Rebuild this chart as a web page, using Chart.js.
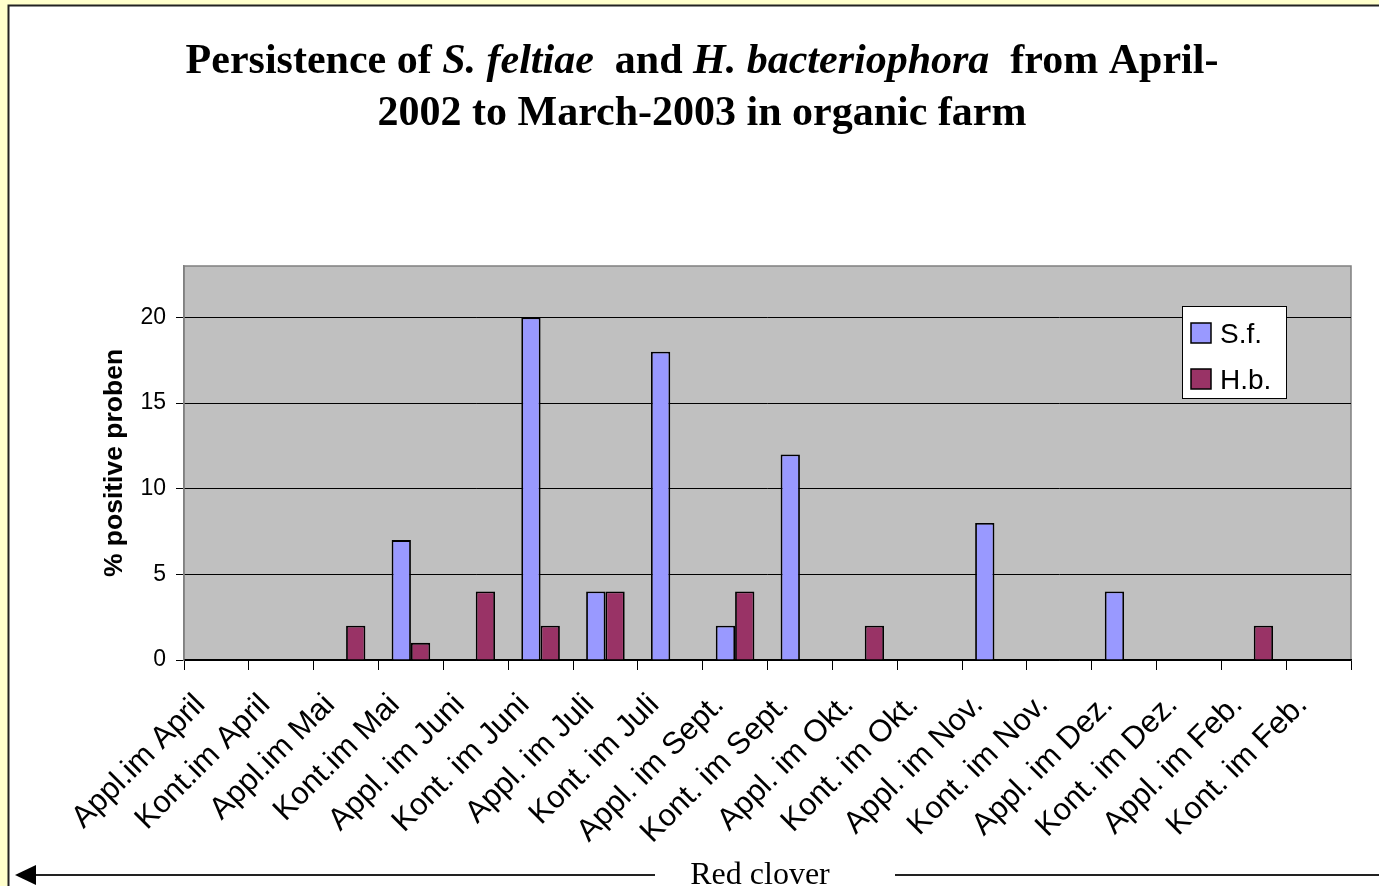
<!DOCTYPE html>
<html><head><meta charset="utf-8">
<script src="https://cdn.jsdelivr.net/npm/chart.js@4.4.1/dist/chart.umd.min.js"></script>
<style>html,body{margin:0;padding:0;background:#FFFFCC;overflow:hidden}
#wrap{position:absolute;left:0;top:0;width:1379px;height:886px}
</style></head><body><div id="wrap"><canvas id="c" width="1379" height="886"></canvas></div>
<script>
const categories = ['Appl.im April','Kont.im April','Appl.im Mai','Kont.im Mai','Appl. im Juni','Kont. im Juni','Appl. im Juli','Kont. im Juli','Appl. im Sept.','Kont. im Sept.','Appl. im Okt.','Kont. im Okt.','Appl. im Nov.','Kont. im Nov.','Appl. im Dez.','Kont. im Dez.','Appl. im Feb.','Kont. im Feb.'];
const sfValues = [0,0,0,7,0,20,4,18,2,12,0,0,8,0,4,0,0,0];
const hbValues = [0,0,2,1,4,2,4,0,4,0,2,0,0,0,0,0,2,0];
const yTicks = [0,5,10,15,20];
const seriesNames = ['S.f.','H.b.'];
const yTitle = '% positive proben';
const titleLine1 = [['Persistence of ',false],['S. feltiae',true],['  and ',false],['H. bacteriophora',true],['  from April-',false]];
const titleLine2 = [['2002 to March-2003 in organic farm',false]];
const bottomLabel = 'Red clover';

const SANS = "'Liberation Sans', Arial, sans-serif";
const SERIF = "'Liberation Serif', 'Times New Roman', serif";

const bgPlugin = {
  id:'bg',
  beforeDraw(chart){
    const ctx = chart.ctx, a = chart.chartArea;
    ctx.save();
    ctx.fillStyle = '#FFFFCC'; ctx.fillRect(0,0,1379,886);
    ctx.fillStyle = '#FFFFFF'; ctx.fillRect(9,6,1370,880);
    ctx.strokeStyle = '#222'; ctx.lineWidth = 2;
    ctx.beginPath(); ctx.moveTo(8.5,886); ctx.lineTo(8.5,5.5); ctx.lineTo(1379,5.5); ctx.stroke();
    ctx.fillStyle = '#C0C0C0'; ctx.fillRect(a.left,a.top,a.right-a.left,a.bottom-a.top);
    ctx.strokeStyle = '#808080'; ctx.lineWidth = 1.5;
    ctx.strokeRect(a.left,a.top,a.right-a.left,a.bottom-a.top);
    ctx.restore();
  },
  afterDraw(chart){
    const ctx = chart.ctx;
    ctx.save();
    const fs = 42;
    const drawLine = (segs, cx, y) => {
      let w = 0;
      const fonts = segs.map(s => `${s[1]?'italic ':''}bold ${fs}px ${SERIF}`);
      segs.forEach((s,i)=>{ ctx.font = fonts[i]; w += ctx.measureText(s[0]).width; });
      let x = cx - w/2;
      ctx.fillStyle = '#000'; ctx.textBaseline = 'alphabetic'; ctx.textAlign = 'left';
      segs.forEach((s,i)=>{ ctx.font = fonts[i]; ctx.fillText(s[0], x, y); x += ctx.measureText(s[0]).width; });
    };
    drawLine(titleLine1, 702, 73);
    drawLine(titleLine2, 702, 125);
    // legend
    const lx = 1182, ly = 306, lw = 104, lh = 92;
    ctx.fillStyle = '#fff'; ctx.fillRect(lx,ly,lw,lh);
    ctx.strokeStyle = '#000'; ctx.lineWidth = 1; ctx.strokeRect(lx+0.5,ly+0.5,lw,lh);
    chart.data.datasets.forEach((ds,i)=>{
      const sy = 323 + i*46;
      ctx.fillStyle = ds.backgroundColor; ctx.fillRect(1191,sy,20,20);
      ctx.strokeStyle = '#000'; ctx.lineWidth = 1.5; ctx.strokeRect(1191,sy,20,20);
      ctx.fillStyle = '#000'; ctx.font = `28px ${SANS}`; ctx.textBaseline = 'alphabetic';
      ctx.fillText(ds.label, 1220, sy+20);
    });
    // bottom arrow label
    ctx.strokeStyle = '#222'; ctx.lineWidth = 2;
    ctx.beginPath(); ctx.moveTo(30,875); ctx.lineTo(655,875); ctx.moveTo(895,875); ctx.lineTo(1379,875); ctx.stroke();
    ctx.fillStyle = '#000';
    ctx.beginPath(); ctx.moveTo(15,875); ctx.lineTo(36,865); ctx.lineTo(36,885); ctx.closePath(); ctx.fill();
    ctx.font = `32px ${SERIF}`; ctx.textAlign = 'center';
    ctx.fillText(bottomLabel, 760, 884);
    ctx.restore();
  }
};

new Chart(document.getElementById('c'), {
  type:'bar',
  data:{
    labels: categories,
    datasets:[
      {label: seriesNames[0], data: sfValues, backgroundColor:'#9999FF', borderColor:'#000', borderWidth:1.8, categoryPercentage:0.595, barPercentage:1.0},
      {label: seriesNames[1], data: hbValues, backgroundColor:'#993366', borderColor:'#000', borderWidth:1.8, categoryPercentage:0.595, barPercentage:1.0}
    ]
  },
  options:{
    responsive:false, animation:false, devicePixelRatio:1,
    layout:{padding:{left:95, top:266, right:28, bottom:0}},
    plugins:{legend:{display:false}, title:{display:false}, tooltip:{enabled:false}},
    scales:{
      x:{
        grid:{offset:true, drawOnChartArea:false, color:'#000', tickLength:10, lineWidth:1},
        border:{color:'#000', width:1.5},
        ticks:{color:'#000', font:{family:SANS, size:31}, minRotation:45, maxRotation:45, autoSkip:false, padding:17, labelOffset:-16},
        afterFit(s){ s.height = 226; s.paddingLeft = 0; s.paddingRight = 0; }
      },
      y:{
        min:0, max:23,
        afterBuildTicks(s){ s.ticks = yTicks.map(v=>({value:v})); },
        grid:{color:'#000', tickLength:8, lineWidth:1},
        border:{color:'#808080', width:1.5},
        ticks:{color:'#000', font:{family:SANS, size:23}, padding:10, stepSize:5, includeBounds:false},
        title:{display:true, text:yTitle, color:'#000', font:{family:SANS, size:26.5, weight:'bold'}, padding:{top:4,bottom:4}},
        afterFit(s){ s.width = 89; s.paddingTop = 0; s.paddingBottom = 0; }
      }
    }
  },
  plugins:[bgPlugin]
});
</script></body></html>
